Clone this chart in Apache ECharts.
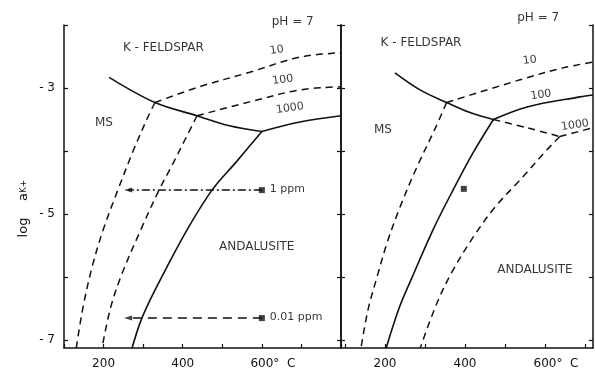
<!DOCTYPE html>
<html><head><meta charset="utf-8">
<script src="https://cdn.jsdelivr.net/npm/echarts@6/dist/echarts.min.js"></script>
<style>html,body{margin:0;padding:0;background:#fff}#c{width:595px;height:373px}</style>
</head><body><div id="c"></div>
<script>
// ---------- DATA (T in °C, log aK+) ----------
// Left panel
const L_kfsMs     = [[214,-2.83],[330,-3.23],[436,-3.44],[518,-3.60],[600,-3.69]];
const L_kfsAnd    = [[600,-3.69],[696,-3.54],[800,-3.44]];
const L_msAnd     = [[600,-3.69],[537,-4.16],[474,-4.62],[411,-5.25],[360,-5.84],[317,-6.37],[292,-6.73],[272,-7.125]];
const L_r10_up    = [[330,-3.23],[442,-2.98],[569,-2.75],[696,-2.51],[800,-2.44]];
const L_r10_low   = [[330,-3.23],[312,-3.46],[276,-3.98],[236,-4.62],[199,-5.25],[171,-5.84],[148,-6.48],[131,-7.125]];
const L_r100_up   = [[436,-3.44],[569,-3.22],[696,-3.03],[800,-2.98]];
const L_r100_low  = [[436,-3.44],[409,-3.78],[371,-4.25],[340,-4.62],[294,-5.25],[247,-5.94],[218,-6.48],[196,-7.125]];
const L_ppm1      = [[600,-4.62],[262,-4.62]];
const L_ppm001    = [[600,-6.65],[262,-6.65]];
// Right panel
const R_kfsMs     = [[225,-2.76],[287.5,-3.03],[354,-3.23],[412.5,-3.39],[471,-3.50]];
const R_r100      = [[471,-3.50],[555,-3.30],[687.5,-3.14],[720,-3.11]];
const R_msAnd     = [[471,-3.50],[420,-4.03],[370,-4.62],[320,-5.25],[268,-6.00],[236,-6.48],[203,-7.125]];
const R_r10_up    = [[354,-3.23],[537.5,-2.87],[645,-2.68],[720,-2.59]];
const R_r10_low   = [[354,-3.23],[327,-3.62],[280,-4.25],[237.5,-4.89],[205,-5.46],[180,-6.00],[157.5,-6.52],[140,-7.125]];
const R_r1000_a   = [[471,-3.50],[555,-3.63],[637,-3.77]];
const R_r1000_b   = [[637,-3.77],[720,-3.63]];
const R_r1000_low = [[637,-3.77],[605,-3.98],[537.5,-4.46],[475,-4.89],[420,-5.37],[370,-5.89],[330,-6.41],[288,-7.125]];
const R_point     = [397,-4.60];
// Tick values / labels
const xTicksL = [100,200,300,400,500,600,700,800];
const xTicksR = [100,200,300,400,500,600,700];
const xLabels = [200,400,600];
const yTicks  = [-7,-6,-5,-4,-3,-2];
const yLabels = [-7,-5,-3];
// Annotations [text, T, logaK]
const L_notes = [['pH = 7',678,-1.95],['K - FELDSPAR',351,-2.37],['10',638,-2.40],['100',653,-2.87],['1000',671,-3.32],['MS',201,-3.56],['ANDALUSITE',587,-5.52]];
const L_ppmNotes = [['1 ppm',620,-4.61],['0.01 ppm',620,-6.64]];
const R_notes = [['pH = 7',583,-1.89],['K - FELDSPAR',290,-2.29],['10',562,-2.56],['100',590,-3.11],['1000',675,-3.59],['MS',195,-3.67],['ANDALUSITE',575,-5.89]];
const labelTilt = {'10':8,'100':8,'1000':8};

// ---------- CHART ----------
const INK = '#111';
const FONT = 'DejaVu Sans';
const YMIN = -7.125, YMAX = -2;
const chart = echarts.init(document.getElementById('c'));

function curve(data, g, kind){
  return {type:'line', xAxisIndex:g, yAxisIndex:g*2, data:data, smooth:0.35, symbol:'none',
    showSymbol:false, silent:true, clip:false,
    lineStyle:{color:INK, width: kind==='solid'?1.6:1.5, type: kind==='solid'?'solid':(kind==='dashdot'?[8,3,2,3]:[7,5])}};
}
function notes(arr, g, extra){
  return {type:'scatter', xAxisIndex:g, yAxisIndex:g*2, symbolSize:0, silent:true, clip:false,
    data: arr.map(n=>({name:n[0], value:[n[1],n[2]], label:{rotate: labelTilt[n[0]]||0, fontSize: /^\d+$/.test(n[0])?11:undefined}})),
    label:Object.assign({show:true, position:'inside', formatter:p=>p.name, color:'#000',
      fontFamily:FONT, fontSize:12}, extra||{})};
}

const xLabelFmt = v => v===600 ? '{h| }600{u|\u00b0  C}' : String(v);
const xLabelRich = {h:{width:22}, u:{width:22, fontFamily:FONT, fontSize:12, color:INK}};

function xAxis(g, min, max, ticks){
  return {type:'value', gridIndex:g, min:min, max:max, position:'bottom',
    axisLine:{show:true, onZero:false, lineStyle:{color:INK, width:1.5}},
    axisTick:{show:true, inside:true, length:4, customValues:ticks, lineStyle:{color:INK, width:1.2}},
    axisLabel:{show:true, customValues:xLabels, formatter:xLabelFmt, rich:xLabelRich, margin:10,
      color:INK, fontFamily:FONT, fontSize:12},
    splitLine:{show:false}};
}
function yAxis(g, pos, showLabel, inside, nameOpt){
  const a = {type:'value', gridIndex:g, min:YMIN, max:YMAX, position:pos,
    axisLine:{show:true, onZero:false, lineStyle:{color:INK, width:1.5}},
    axisTick:{show:true, inside:inside, length:4, customValues:yTicks, lineStyle:{color:INK, width:1.2}},
    axisLabel:{show:showLabel, customValues:yLabels, formatter:v=>'- '+Math.abs(v), margin:9,
      color:INK, fontFamily:FONT, fontSize:12},
    splitLine:{show:false}};
  if(nameOpt) Object.assign(a, nameOpt);
  return a;
}

const option = {
  backgroundColor:'#ffffff',
  animation:false,
  grid:[{left:64, top:25, width:277, height:323},{left:341, top:25, width:252, height:323}],
  xAxis:[xAxis(0,100,800,xTicksL), xAxis(1,90,720,xTicksR)],
  yAxis:[
    yAxis(0,'left',true,true,{name:'log    a{k|K+}{sp| }', nameLocation:'middle', nameGap:34, nameRotate:90,
      nameTextStyle:{color:INK, fontFamily:FONT, fontSize:13, rich:{k:{fontSize:9, fontFamily:FONT, color:INK}, sp:{width:44}}}}),
    yAxis(0,'right',false,true),
    yAxis(1,'left',false,true),
    yAxis(1,'right',false,true)
  ],
  series:[
    curve(L_kfsMs,0,'solid'), curve(L_kfsAnd,0,'solid'), curve(L_msAnd,0,'solid'),
    curve(L_r10_up,0,'dash'), curve(L_r10_low,0,'dash'),
    curve(L_r100_up,0,'dash'), curve(L_r100_low,0,'dash'),
    Object.assign(curve(L_ppm1,0,'dashdot'),{smooth:false}),
    Object.assign(curve(L_ppm001,0,'dash'),{smooth:false, lineStyle:{color:INK,width:1.4,type:[9,6]}}),
    curve(R_kfsMs,1,'solid'), curve(R_r100,1,'solid'), curve(R_msAnd,1,'solid'),
    curve(R_r10_up,1,'dash'), curve(R_r10_low,1,'dash'),
    curve(R_r1000_a,1,'dash'), curve(R_r1000_b,1,'dash'), curve(R_r1000_low,1,'dash'),
    // markers: squares at the start of the paths, arrowheads at the ends
    {type:'scatter', xAxisIndex:0, yAxisIndex:0, silent:true, symbol:'rect', symbolSize:6,
      itemStyle:{color:INK}, data:[L_ppm1[0], L_ppm001[0]]},
    {type:'scatter', xAxisIndex:0, yAxisIndex:0, silent:true, symbol:'triangle', symbolRotate:90, symbolSize:[5,8],
      itemStyle:{color:INK}, data:[L_ppm1[1], L_ppm001[1]]},
    {type:'scatter', xAxisIndex:1, yAxisIndex:2, silent:true, symbol:'rect', symbolSize:6,
      itemStyle:{color:INK}, data:[R_point]},
    notes(L_notes,0), notes(R_notes,1),
    notes(L_ppmNotes,0,{align:'left', fontSize:11})
  ]
};
chart.setOption(option);
</script></body></html>
